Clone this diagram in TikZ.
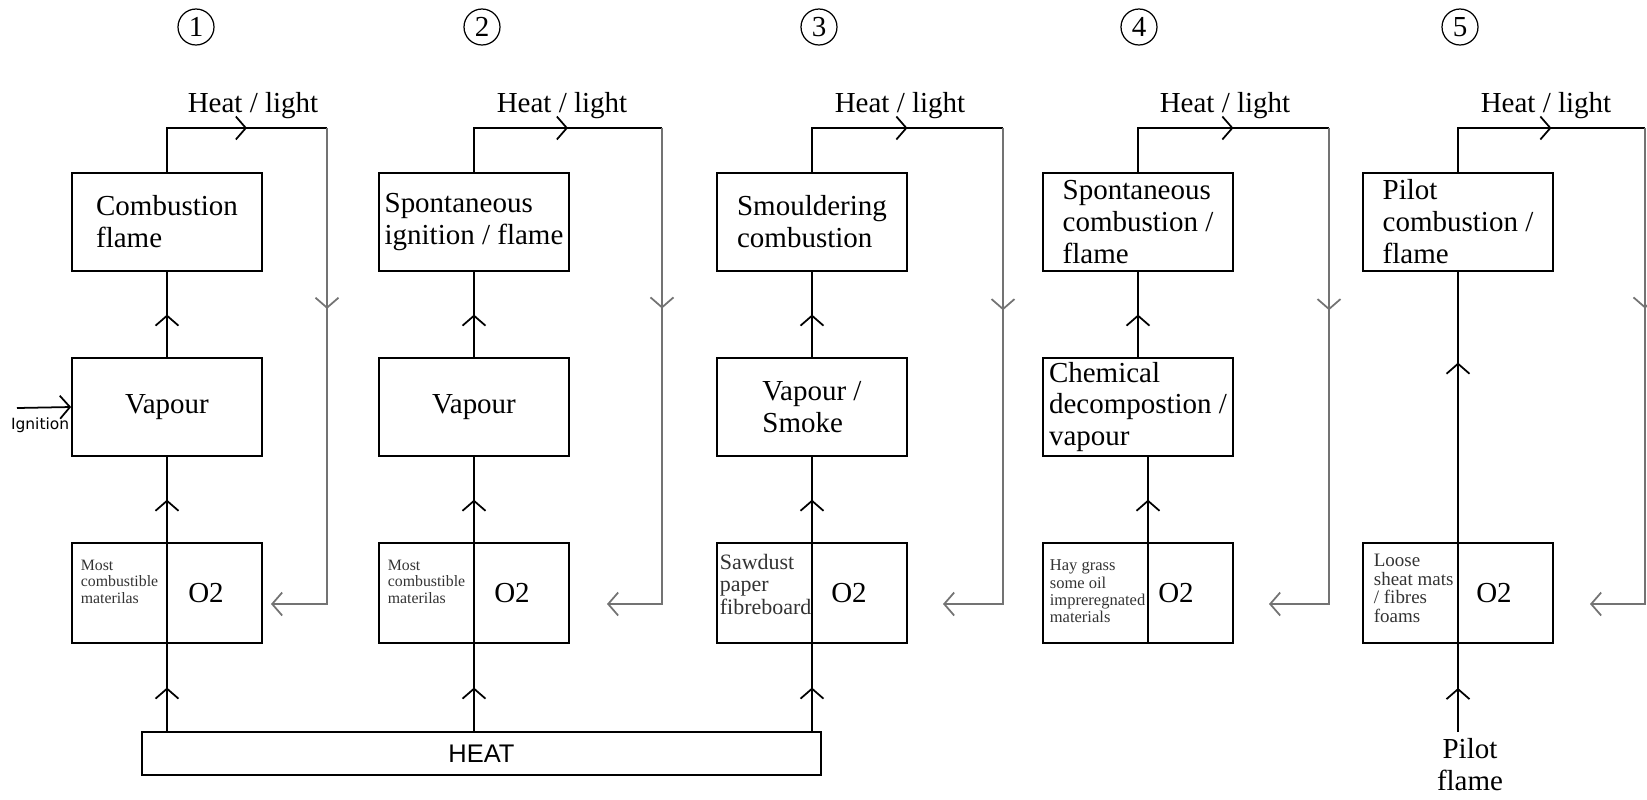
\documentclass[tikz,border=0pt]{standalone}
\usepackage{fontspec}
\setmainfont{Liberation Serif}
\setsansfont{Liberation Sans}
\newfontfamily\ignfont{DejaVu Sans}
\usetikzlibrary{
    arrows.meta,
    positioning,
    calc,
    decorations.markings
}
\colorlet{loopgrey}{black!55}

\begin{document}
\begin{tikzpicture}[
        x=0.02cm, y=-0.02cm,
        line width=1pt,
        >={Straight Barb[length=2mm, width=4.6mm]},
        stage/.style={draw, minimum width=3.8cm, minimum height=1.97cm, inner sep=2pt, align=left, font=\fontsize{16.5}{18.2}\selectfont},
        airbox/.style={draw, minimum width=3.8cm, minimum height=2cm, inner sep=0pt},
        fuel/.style={anchor=north west, inner sep=0pt, align=left, text=black!80},
        bigtext/.style={font=\fontsize{16.5}{18.2}\selectfont},
        stepno/.style={draw, circle, minimum size=0.72cm, inner sep=0pt, line width=0.7pt, font=\fontsize{16.5}{18}\selectfont},
        flow/.style={postaction={decorate}, decoration={markings, mark=at position #1 with {\arrow{>}}}},
        flow/.default=0.5,
    ]
        \useasboundingbox (0,0) rectangle (1647,799);

        % Step numbers
        \foreach \n/\x in {1/196, 2/482, 3/819, 4/1139, 5/1460}
            \node[stepno] (num\n) at (\x,27) {\n};

        % Flame / combustion boxes
        \node[stage] (top1) at (167,222) {Combustion\\flame};
        \node[stage] (top2) at (474,222) {Spontaneous\\ignition / flame};
        \node[stage] (top3) at (812,222) {Smouldering\\combustion};
        \node[stage] (top4) at (1138,222) {Spontaneous\\combustion /\\flame};
        \node[stage] (top5) at (1458,222) {Pilot\\combustion /\\flame};

        % Vapour boxes
        \node[stage] (vap1) at (167,407) {Vapour};
        \node[stage] (vap2) at (474,407) {Vapour};
        \node[stage] (vap3) at (812,407) {Vapour /\\Smoke};
        \node[stage] (vap4) at (1138,407) {Chemical\\decompostion /\\vapour};

        % Fuel / oxygen boxes
        \foreach \n/\x in {1/167, 2/474, 3/812, 4/1138, 5/1458}
            \node[airbox] (air\n) at (\x,593) {};
        \foreach \n/\x in {1/206, 2/512, 3/849, 4/1176, 5/1494}
            \node[bigtext] (otwo\n) at (\x,593) {O2};
        \node[fuel, font=\fontsize{9}{9.4}\selectfont] (fuel1) at (80,559) {Most\\combustible\\materilas};
        \node[fuel, font=\fontsize{9}{9.4}\selectfont] (fuel2) at (387,559) {Most\\combustible\\materilas};
        \node[fuel, font=\fontsize{12.5}{12.8}\selectfont] (fuel3) at (719,553) {Sawdust\\paper\\fibreboard};
        \node[fuel, font=\fontsize{9.4}{9.9}\selectfont] (fuel4) at (1049,559) {Hay grass\\some oil\\impreregnated\\materials};
        \node[fuel, font=\fontsize{10.8}{10.7}\selectfont] (fuel5) at (1373,553) {Loose\\sheat mats\\/ fibres\\foams};

        % Heat source and pilot flame
        \node[draw, minimum width=13.58cm, minimum height=0.86cm, inner sep=0pt, font=\sffamily\fontsize{14.5}{16}\selectfont] (heat) at (481.5,753.5) {HEAT};
        \node[bigtext, align=center, anchor=north] (pilot) at (1470,732) {Pilot\\flame};

        % Ignition
        \coordinate (igs) at (17,408);
        \draw[->] (igs) -- (vap1.west);
        \node[font=\ignfont\fontsize{8.8}{10}\selectfont, anchor=north east, inner sep=0pt] (ign) at (70,417) {Ignition};

        % Rising flow
        \foreach \n in {1,2,3} {
            \draw[flow] (heat.north -| air\n) -- (air\n.south);
            \draw (air\n.south) -- (air\n.north);
            \draw[flow] (air\n.north) -- (vap\n.south);
            \draw[flow] (vap\n.north) -- (top\n.south);
        }
        \coordinate (rise4) at (1148,0);
        \draw (air4.south -| rise4) -- (air4.north -| rise4);
        \draw[flow] (air4.north -| rise4) -- (vap4.south -| rise4);
        \draw[flow] (vap4.north) -- (top4.south);
        \draw[flow] (pilot.north -| air5) -- (air5.south);
        \draw (air5.south) -- (air5.north);
        \draw[flow=0.665] (air5.north) -- (top5.south);

        % Heat / light feedback loops
        \foreach \n/\xr/\xt in {1/327/271, 2/662/607, 3/1003/943, 4/1329/1269, 5/1645/1590} {
            \coordinate (tl\n) at (top\n.north |- 0,128);
            \coordinate (tr\n) at (\xr,128);
            \coordinate (rt\n) at (\xt,604);
            \draw (top\n.north) |- (tr\n);
            \draw[flow] (tl\n) -- (tr\n);
            \draw[loopgrey, flow=0.34, ->] (tr\n) |- (rt\n);
        }
        \foreach \n/\x in {1/253, 2/562, 3/900, 4/1225, 5/1546}
            \node[bigtext, anchor=base] (hl\n) at (\x,112) {Heat / light};
\end{tikzpicture}
\end{document}
